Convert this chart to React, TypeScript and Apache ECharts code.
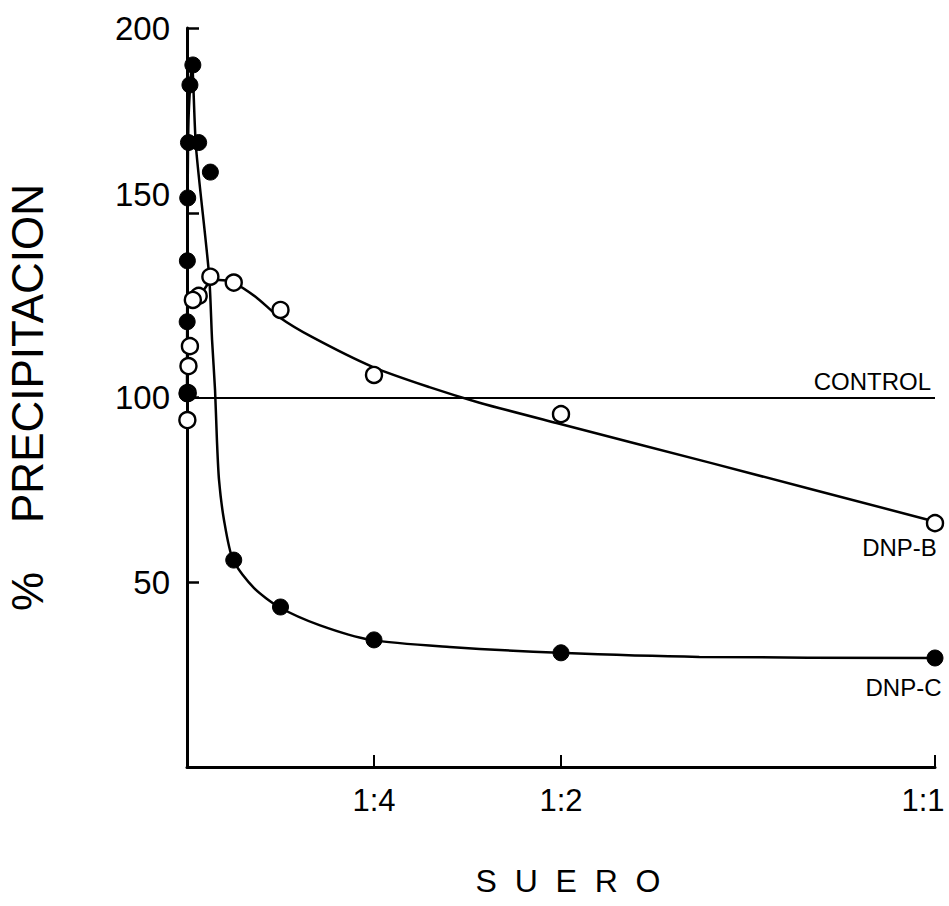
import React, { useEffect, useRef } from "react";
import * as echarts from "echarts";

// Serum dilutions (1:n) — x is the serum fraction 1/n
const dilutionDenoms = [1, 2, 4, 8, 16, 32, 64, 128, 256, 512, 1024, 2048, 4096, 8192];

// Measured points (% precipitation)
const dnpCValues = [29.5, 30.9, 34.4, 43.3, 56, 161, 169, 190, 184.6, 169, 154, 137, 120.5, 101];
const dnpBValues = [66, 95.5, 106.1, 123.7, 131.1, 132.7, 127.5, 126.4, 113.9, 108.5, 101.2, 93.9];

// Hand-drawn fitted curves: [serum fraction, %]
const curveDnpC: [number, number][] = [
  [0, 101], [0.0005, 140], [0.002, 175], [0.0067, 190.3], [0.012, 167.8],
  [0.0295, 133.2], [0.0335, 115.6], [0.0375, 102], [0.04, 88.5], [0.0428, 77.7],
  [0.0495, 66.8], [0.0616, 56], [0.0897, 48.4], [0.123, 43.3], [0.177, 38.4],
  [0.246, 34.4], [0.351, 32.5], [0.497, 30.9], [0.685, 29.8], [1, 29.5],
];
const curveDnpB: [number, number][] = [
  [0, 124.5], [0.016, 127.2], [0.0295, 131], [0.043, 131.8], [0.06, 131.3],
  [0.092, 127.2], [0.123, 121.8], [0.167, 116.4], [0.248, 108.3], [0.324, 102.8],
  [0.391, 98.6], [0.494, 93.1], [0.7, 82.3], [0.993, 66.8],
];

const controlValue = 100;

// Axis ticks
const xTickValues = [0.25, 0.5, 1];
const xTickLabels = ["1:4", "1:2", "1:1"];
const yTickValues = [0, 50, 100, 150, 200];

const FONT = "Liberation Sans, Arial, Helvetica, sans-serif";
const NARROW = "Liberation Sans Narrow, Arial Narrow, Liberation Sans, sans-serif";

export default function App() {
  const ref = useRef<HTMLDivElement>(null);

  useEffect(() => {
    if (!ref.current) return;
    const chart = echarts.init(ref.current, undefined, { renderer: "svg" });

    const endLabel = (text: string, pos: [number, number]) => ({
      show: true,
      formatter: text,
      position: pos,
      align: "right",
      verticalAlign: "top",
      fontSize: 24,
      fontFamily: FONT,
      color: "#000",
    });

    const pointsC = dnpCValues.map((v, i) => {
      const item: any = { value: [1 / dilutionDenoms[i], v] };
      if (i === 0) item.label = endLabel("DNP-C", [15, 26]);
      return item;
    });
    const pointsB = dnpBValues.map((v, i) => {
      const item: any = { value: [1 / dilutionDenoms[i], v] };
      if (i === 0) item.label = endLabel("DNP-B", [11, 22]);
      return item;
    });

    const option: any = {
      animation: false,
      backgroundColor: "#fff",
      grid: {
        left: 187,
        right: 14,
        top: 28,
        bottom: 139,
        containLabel: false,
        outerBoundsMode: "none",
      },
      xAxis: {
        type: "value",
        min: 0,
        max: 1,
        name: "S  U  E  R  O",
        nameLocation: "middle",
        nameGap: 98,
        nameTextStyle: { fontSize: 32, fontFamily: FONT, color: "#000", padding: [0, 0, 0, 14] },
        axisLine: { show: true, lineStyle: { color: "#000", width: 3 } },
        axisTick: {
          show: true,
          inside: true,
          length: 12,
          customValues: xTickValues,
          lineStyle: { color: "#000", width: 2 },
        },
        axisLabel: {
          show: true,
          customValues: xTickValues,
          formatter: (v: number) => {
            const idx = xTickValues.findIndex((t) => Math.abs(t - v) < 1e-9);
            if (idx < 0) return "";
            return idx === xTickValues.length - 1 ? `{edge|${xTickLabels[idx]}}` : xTickLabels[idx];
          },
          rich: {
            edge: { fontSize: 31, fontFamily: NARROW, color: "#000", padding: [0, 24, 0, 0] },
          },
          margin: 18,
          fontSize: 31,
          fontFamily: NARROW,
          color: "#000",
        },
        splitLine: { show: false },
      },
      yAxis: {
        type: "value",
        min: 0,
        max: 200,
        interval: 50,
        name: "%    PRECIPITACION",
        nameLocation: "middle",
        nameGap: 138,
        nameRotate: 90,
        nameTextStyle: { fontSize: 44, fontFamily: FONT, color: "#000" },
        axisLine: { show: true, lineStyle: { color: "#000", width: 3 } },
        axisTick: {
          show: true,
          inside: true,
          length: 12,
          customValues: yTickValues.filter((v) => v !== 0),
          lineStyle: { color: "#000", width: 2.5 },
        },
        axisLabel: {
          show: true,
          margin: 17,
          fontSize: 33,
          fontFamily: NARROW,
          color: "#000",
          formatter: (v: number) => (v === 0 ? "" : v === 150 ? "{up|150}" : String(v)),
          rich: {
            up: { fontSize: 33, fontFamily: NARROW, color: "#000", padding: [0, 0, 36, 0] },
          },
        },
        splitLine: { show: false },
      },
      series: [
        {
          name: "CONTROL",
          type: "line",
          data: [],
          silent: true,
          markLine: {
            silent: true,
            symbol: ["none", "none"],
            data: [{ yAxis: controlValue }],
            lineStyle: { color: "#000", width: 1.8, type: "solid" },
            label: {
              show: true,
              position: "insideEndTop",
              formatter: "CONTROL",
              fontSize: 24,
              fontFamily: FONT,
              color: "#000",
              distance: 4,
            },
          },
        },
        {
          name: "DNP-C curve",
          type: "line",
          data: curveDnpC,
          showSymbol: false,
          symbol: "none",
          smooth: 0.25,
          lineStyle: { color: "#000", width: 2.5 },
          silent: true,
          z: 2,
        },
        {
          name: "DNP-B curve",
          type: "line",
          data: curveDnpB,
          showSymbol: false,
          symbol: "none",
          smooth: 0.25,
          lineStyle: { color: "#000", width: 2.5 },
          silent: true,
          z: 2,
        },
        {
          name: "DNP-B",
          type: "scatter",
          data: pointsB,
          symbol: "circle",
          symbolSize: 16,
          itemStyle: { color: "#fff", borderColor: "#000", borderWidth: 2.4, opacity: 1 },
          z: 4,
        },
        {
          name: "DNP-C",
          type: "scatter",
          data: pointsC,
          symbol: "circle",
          symbolSize: 16,
          itemStyle: { color: "#000", borderColor: "#000", borderWidth: 1, opacity: 1 },
          z: 5,
        },
      ],
    };

    chart.setOption(option);
    return () => chart.dispose();
  }, []);

  return (
    <div
      ref={ref}
      style={{ position: "fixed", left: 0, top: 0, width: 949, height: 906, background: "#fff" }}
    />
  );
}
